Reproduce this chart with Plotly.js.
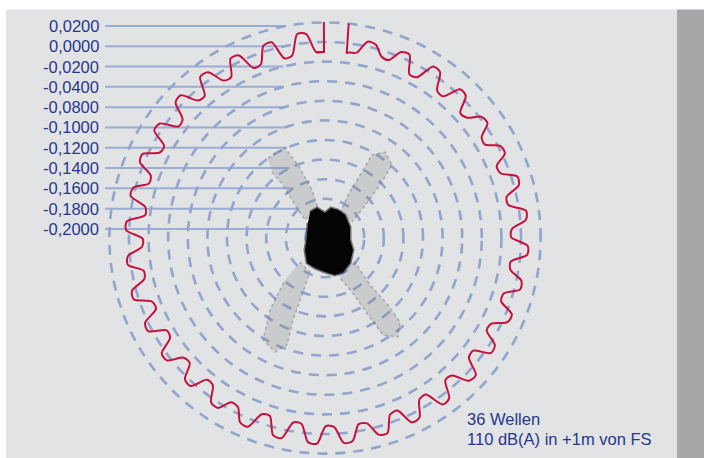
<!DOCTYPE html>
<html>
<head>
<meta charset="utf-8">
<script src="https://cdn.plot.ly/plotly-3.0.1.min.js"></script>
<style>html,body{margin:0;padding:0;background:#fff;}#chart{width:704px;height:458px;}</style>
</head>
<body>
<div id="chart"></div>
<script>
// ---------------- data ----------------
// concentric reference circles (radial axis values) and their printed labels
const circleValues = [0.02, 0, -0.02, -0.04, -0.06, -0.08, -0.10, -0.12, -0.14, -0.16, -0.18];
const circleLabels = ['0,0200', '0,0000', '-0,0200', '-0,0400', '-0,0800', '-0,1000',
                      '-0,1200', '-0,1400', '-0,1600', '-0,1800', '-0,2000'];

// red trace: 36 waves, sampled every 2.5 degrees, clockwise from 82.75 deg
// (per wave: trough, trough, crest, crest)
const waveThetaStart = 82.75, waveThetaStep = -2.5;
const waveR = [
  -0.009, -0.008, 0.005, 0.004,
  -0.006, -0.007, 0.005, 0.006,
  -0.012, -0.011, 0.007, 0.006,
  -0.011, -0.012, 0.005, 0.004,
  -0.012, -0.010, 0.002, 0.003,
  -0.010, -0.011, 0.002, 0.003,
  -0.010, -0.009, 0.006, 0.005,
  -0.010, -0.010, 0.007, 0.006,
  -0.009, -0.010, 0.007, 0.007,
  -0.009, -0.008, 0.005, 0.006,
  -0.009, -0.009, 0.006, 0.005,
  -0.009, -0.010, 0.005, 0.006,
  -0.010, -0.009, 0.008, 0.007,
  -0.009, -0.010, 0.007, 0.008,
  -0.010, -0.009, 0.007, 0.008,
  -0.009, -0.008, 0.009, 0.008,
  -0.006, -0.007, 0.009, 0.010,
  -0.007, -0.008, 0.010, 0.009,
  -0.009, -0.009, 0.009, 0.008,
  -0.010, -0.009, 0.008, 0.007,
  -0.006, -0.007, 0.005, 0.004,
  -0.011, -0.012, 0.004, 0.003,
  -0.012, -0.011, 0.004, 0.004,
  -0.012, -0.013, 0.004, 0.003,
  -0.013, -0.012, 0.005, 0.004,
  -0.011, -0.012, 0.003, 0.002,
  -0.013, -0.014, 0.003, 0.003,
  -0.015, -0.014, 0.003, 0.002,
  -0.012, -0.011, 0.004, 0.005,
  -0.010, -0.011, 0.006, 0.005,
  -0.012, -0.011, 0.006, 0.007,
  -0.009, -0.010, 0.008, 0.007,
  -0.009, -0.010, 0.007, 0.006,
  -0.012, -0.011, 0.006, 0.007,
  -0.012, -0.011, 0.010, 0.009,
  -0.010, -0.010
];
// start / end markers of the red trace (radial spikes)
const spikeTheta = [83.7, 83.3, 82.75, null, -267.25, -269.7, -269.7];
const spikeR     = [0.0204, -0.0102, -0.009, null, -0.010, -0.0102, 0.0204];

// dense central cloud (outline) and the four grey arms (outlines)
const blobTheta = [120.0, 104.9, 90, 78.7, 65.1, 49.0, 23.7, -4.6, -23.2, -45, -62.1, -74.9, -90, -108.4, -125.8, -149, -183.2, -221.4];
const blobR     = [-0.1694, -0.1684, -0.1745, -0.1688, -0.1685, -0.1689, -0.1721, -0.1744, -0.1689, -0.1639, -0.1607, -0.1609, -0.1653, -0.1677, -0.1686, -0.1762, -0.1816, -0.1768];

const armULTheta = [125.5, 114.0, 110.3, 105.2, 103.1, 138.0, 132.3, 128.4, 128.8];
const armULR     = [-0.0998, -0.0995, -0.1206, -0.1493, -0.1686, -0.1725, -0.1545, -0.1310, -0.1137];
const armURTheta = [59.0, 61.9, 60.9, 60.5, 55.1, 47.5, 44.5, 40.1, 30.7];
const armURR     = [-0.1702, -0.1502, -0.1264, -0.1027, -0.0930, -0.0989, -0.1185, -0.1428, -0.1680];
const armLLTheta = [-136.2, -113.8, -112.0, -111.3, -109.6, -113.7, -121.3, -127.4, -133.6];
const armLLR     = [-0.1646, -0.1621, -0.1373, -0.1102, -0.0842, -0.0730, -0.0782, -0.1075, -0.1408];
const armLRTheta = [-57.8, -38.7, -46.2, -46.8, -48.2, -53.6, -59.1, -60.8, -63.4, -69.4];
const armLRR     = [-0.1674, -0.1608, -0.1336, -0.1061, -0.0851, -0.0745, -0.0847, -0.1100, -0.1384, -0.1564];

const noteLines = ['36 Wellen', '110 dB(A) in +1m von FS'];

// ---------------- layout geometry / style ----------------
const W = 704, H = 458;
const CX = 325, CY = 238;          // centre of the circles (px)
const PX_PER_UNIT = 980;           // px per radial unit
const R_CENTER = -0.20, R_MAX = 0.024;
const LABEL_STRETCH = 1.0357, LABEL_SHIFT = -0.0115;
const LEADER_X0_PX = 105, LABEL_X_PX = 100;

const NAVY = '#26388c', DASH_BLUE = '#91a5cd', LEADER_BLUE = '#9aaed4', RED = '#c3123f';
const FONT = 'Liberation Sans, Arial, sans-serif';

const waveTheta = waveR.map((_, j) => waveThetaStart + j * waveThetaStep);
const Rpx = (R_MAX - R_CENTER) * PX_PER_UNIT;
const toU = px => px / PX_PER_UNIT;

// leader lines (cartesian overlay, units = radial units from centre)
const leadX = [], leadY = [];
const annotations = [];
circleValues.forEach((v, i) => {
  const u = v - R_CENTER;
  const yl = u * LABEL_STRETCH + LABEL_SHIFT;
  const xe = yl < u ? -Math.sqrt(u * u - yl * yl) : 0;
  leadX.push(toU(LEADER_X0_PX - CX), xe, null);
  leadY.push(yl, yl, null);
  annotations.push({
    xref: 'x', yref: 'y', x: toU(LABEL_X_PX - CX), y: yl, text: circleLabels[i],
    showarrow: false, xanchor: 'right', yanchor: 'middle', borderpad: 0,
    font: {family: FONT, size: 16.5, color: NAVY}
  });
});
noteLines.forEach((t, i) => {
  annotations.push({
    xref: 'paper', yref: 'paper', x: 466 / W, y: (H - (419 + 20 * i)) / H, text: t,
    showarrow: false, xanchor: 'left', yanchor: 'middle', borderpad: 0,
    font: {family: FONT, size: 16.5, color: NAVY}
  });
});

const armStyle = {type: 'scatterpolar', mode: 'lines', fill: 'toself',
  fillcolor: 'rgba(110,110,110,0.2)', line: {width: 1.5, color: 'rgba(80,80,80,0.35)', dash: 'dot'},
  hoverinfo: 'skip', showlegend: false};

const traces = [
  {type: 'scatter', mode: 'lines', x: leadX, y: leadY, xaxis: 'x', yaxis: 'y',
   line: {color: LEADER_BLUE, width: 2}, hoverinfo: 'skip', showlegend: false},
  Object.assign({}, armStyle, {theta: armULTheta, r: armULR}),
  Object.assign({}, armStyle, {theta: armURTheta, r: armURR}),
  Object.assign({}, armStyle, {theta: armLLTheta, r: armLLR}),
  Object.assign({}, armStyle, {theta: armLRTheta, r: armLRR}),
  {type: 'scatterpolar', mode: 'lines', theta: blobTheta, r: blobR, fill: 'toself',
   fillcolor: '#050505', line: {color: 'rgba(0,0,0,0.5)', width: 3},
   hoverinfo: 'skip', showlegend: false},
  {type: 'scatterpolar', mode: 'lines', theta: waveTheta, r: waveR,
   line: {color: RED, width: 2, shape: 'spline', smoothing: 0.8}, hoverinfo: 'skip', showlegend: false},
  {type: 'scatterpolar', mode: 'lines', theta: spikeTheta, r: spikeR, connectgaps: false,
   line: {color: RED, width: 2}, hoverinfo: 'skip', showlegend: false}
];

const layout = {
  width: W, height: H, autosize: false,
  margin: {l: 0, r: 0, t: 0, b: 0, pad: 0},
  paper_bgcolor: '#ffffff', plot_bgcolor: 'rgba(0,0,0,0)',
  showlegend: false,
  xaxis: {range: [toU(-CX), toU(W - CX)], visible: false, fixedrange: true, domain: [0, 1]},
  yaxis: {range: [toU(-(H - CY)), toU(CY)], visible: false, fixedrange: true, domain: [0, 1]},
  polar: {
    domain: {x: [(CX - Rpx) / W, (CX + Rpx) / W], y: [(H - CY - Rpx) / H, (H - CY + Rpx) / H]},
    bgcolor: 'rgba(0,0,0,0)',
    radialaxis: {range: [R_CENTER, R_MAX], tickvals: circleValues, showticklabels: false, ticks: '',
      showline: false, showgrid: true, gridcolor: DASH_BLUE, gridwidth: 2.6, griddash: '10px,8px',
      layer: 'below traces'},
    angularaxis: {showgrid: false, showline: false, showticklabels: false, ticks: '', layer: 'below traces'}
  },
  shapes: [
    {type: 'rect', xref: 'paper', yref: 'paper', x0: 6 / W, x1: 677 / W, y0: 0, y1: (H - 9.5) / H,
     fillcolor: '#e2e3e5', line: {width: 0}, layer: 'below'},
    {type: 'rect', xref: 'paper', yref: 'paper', x0: 677 / W, x1: 1, y0: 0, y1: (H - 9.5) / H,
     fillcolor: '#a6a7a9', line: {width: 0}, layer: 'below'}
  ],
  annotations: annotations
};

Plotly.newPlot('chart', traces, layout, {staticPlot: true, displayModeBar: false});
</script>
</body>
</html>
